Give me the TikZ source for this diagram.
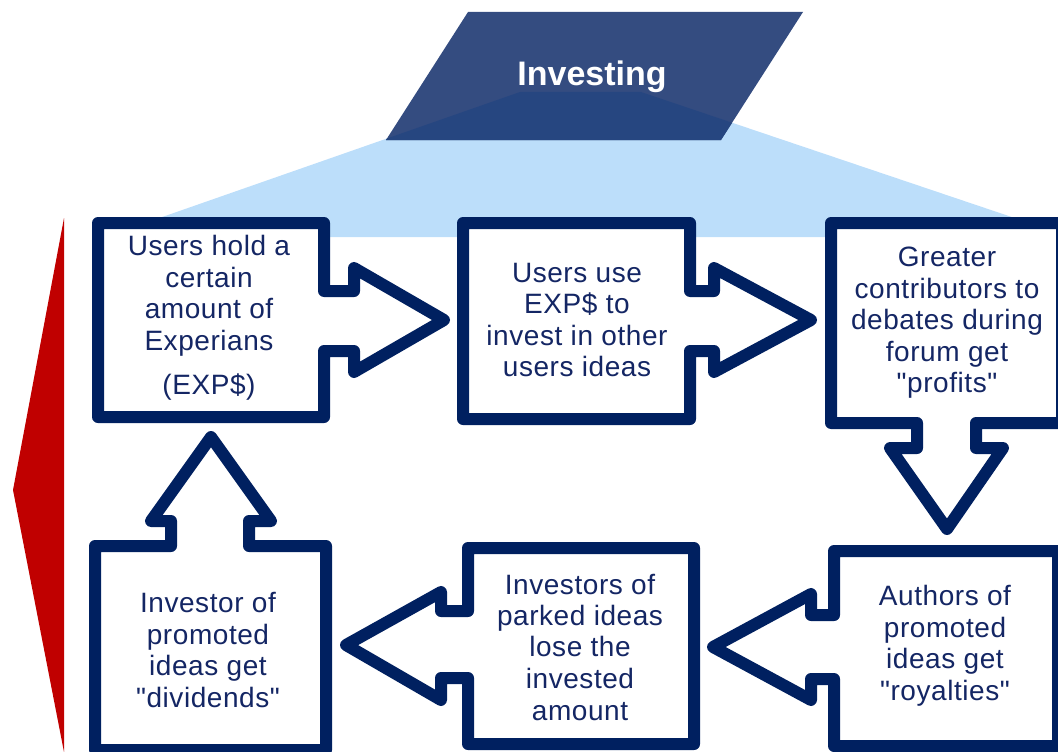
\documentclass[tikz,border=0pt]{standalone}
\usepackage{fontspec}
\setmainfont{Liberation Sans}
\newfontfamily\boxfont[LetterSpace=2]{Liberation Sans}
\definecolor{navy}{RGB}{0,32,96}
\definecolor{txtnavy}{RGB}{20,38,100}
\definecolor{paral}{RGB}{52,76,128}
\definecolor{paraldark}{RGB}{38,70,128}
\definecolor{lightb}{RGB}{188,222,250}
\definecolor{redc}{RGB}{192,0,0}
\newcommand{\sq}{\char"22\relax}
\begin{document}
\begin{tikzpicture}[x=1pt,y=-1pt,
  callout/.style={draw=navy,line width=12pt,fill=white,line join=round},
  txt/.style={text=txtnavy,align=center,font=\boxfont\fontsize{28}{31.5}\selectfont},
  ttl/.style={text=white,font=\bfseries\fontsize{34}{40}\selectfont}]
\useasboundingbox (0,0) rectangle (1058,752);
% red side shape
\fill[redc] (64,218) -- (13,490) -- (64,752) -- cycle;
% light blue trapezoid
\fill[lightb] (520,92) -- (641,92) -- (1071,237) -- (105,237) -- cycle;
% parallelogram
\fill[paral] (468,12) -- (803,12) -- (721,140) -- (386,140) -- cycle;
\begin{scope}
  \clip (468,12) -- (803,12) -- (721,140) -- (386,140) -- cycle;
  \fill[paraldark] (520,92) -- (641,92) -- (1071,237) -- (105,237) -- cycle;
\end{scope}
\node[ttl] (inv) at (592,77) {Investing};
% box 1
\draw[callout] (98,223) -- (324,223) -- (324,291) -- (354,291) -- (354,268) -- (444,320)
  -- (354,372) -- (354,351) -- (324,351) -- (324,417) -- (98,417) -- cycle;
% box 2
\draw[callout] (463,223) -- (690,223) -- (690,291) -- (714,291) -- (714,268) -- (811,320)
  -- (714,372) -- (714,351) -- (690,351) -- (690,419) -- (463,419) -- cycle;
% box 3
\draw[callout] (831,223) -- (1062,223) -- (1062,423) -- (976,423) -- (976,448) -- (1003,448)
  -- (947,529) -- (890,448) -- (917,448) -- (917,423) -- (831,423) -- cycle;
% box 4
\draw[callout] (834,551) -- (1058,551) -- (1058,746) -- (834,746) -- (834,679) -- (811,679)
  -- (811,700) -- (713,647) -- (811,594) -- (811,615) -- (834,615) -- cycle;
% box 5
\draw[callout] (468,548) -- (694,548) -- (694,744) -- (468,744) -- (468,678) -- (441,678)
  -- (441,700) -- (346,645) -- (441,592) -- (441,611) -- (468,611) -- cycle;
% box 6
\draw[callout] (95,546) -- (171,546) -- (171,521) -- (151,521) -- (211,437) -- (271,521)
  -- (249,521) -- (249,546) -- (326,546) -- (326,750) -- (95,750) -- cycle;
% texts
\node[txt] (t1) at (209,318) {Users hold a\\certain\\amount of\\Experians\\[13pt](EXP\$)};
\node[txt] (t2) at (577,320) {Users use\\EXP\$ to\\invest in other\\users ideas};
\node[txt] (t3) at (947,323) {Greater\\contributors to\\debates during\\forum get\\\sq profits\sq};
\node[txt] (t4) at (945,646) {Authors of\\promoted\\ideas get\\\sq royalties\sq};
\node[txt] (t5) at (580,647) {Investors of\\parked ideas\\lose the\\invested\\amount};
\node[txt] (t6) at (208,650) {Investor of\\promoted\\ideas get\\\sq dividends\sq};
\end{tikzpicture}
\end{document}
